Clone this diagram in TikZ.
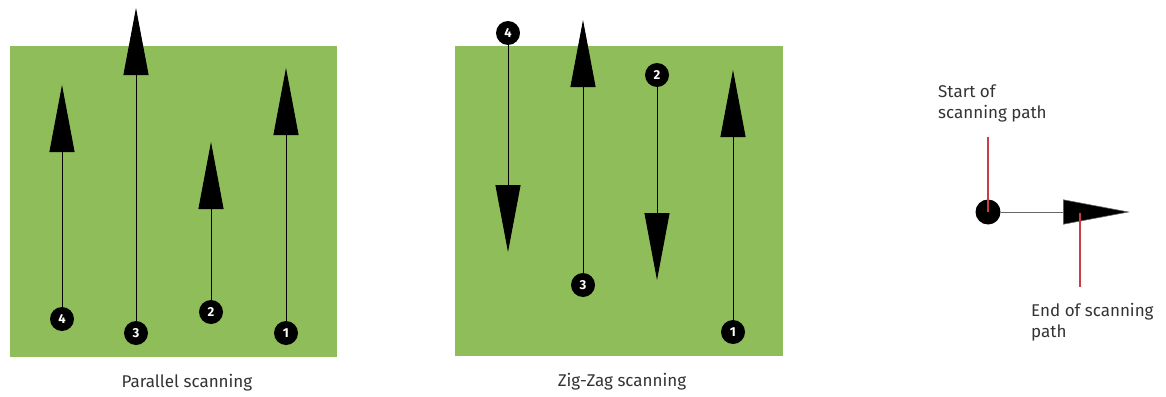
\documentclass[tikz,border=0pt]{standalone}
\usepackage{fontspec}
\setmainfont{Fira Sans}
\usetikzlibrary{arrows.meta}
\definecolor{field}{RGB}{143,189,89}
\definecolor{marker}{RGB}{205,60,70}
\tikzset{
  num/.style={circle,fill=black,text=white,inner sep=0pt,minimum size=24pt,
    font=\bfseries\fontsize{13}{13}\selectfont},
  scan/.style={draw=black,line width=0.9pt,-{Triangle[length=67pt,width=25pt]}},
  caption/.style={font=\fontsize{17}{21}\selectfont,text=black!80},
}
\begin{document}
\begin{tikzpicture}[x=1pt,y=-1pt]
    \useasboundingbox (0,0) rectangle (1166,396);
    \fill[field] (10,46) rectangle (337,357);
    \fill[field] (455,46) rectangle (783,356);
    % parallel
    \node[num] (p4) at (62,319) {4};
    \node[num] (p3) at (136,333) {3};
    \node[num] (p2) at (211,312) {2};
    \node[num] (p1) at (286,333) {1};
    \coordinate (t4) at (62,85);
    \coordinate (t3) at (136,8);
    \coordinate (t2) at (211,142);
    \coordinate (t1) at (286,68);
    \draw[scan] (p4) -- (t4);
    \draw[scan] (p3) -- (t3);
    \draw[scan] (p2) -- (t2);
    \draw[scan] (p1) -- (t1);
    \node[caption] (par) at (187,383) {Parallel scanning};
    % zig-zag
    \node[num] (z4) at (508,33) {4};
    \node[num] (z3) at (583,285) {3};
    \node[num] (z2) at (657,75) {2};
    \node[num] (z1) at (733,332) {1};
    \coordinate (u4) at (508,252);
    \coordinate (u3) at (583,20);
    \coordinate (u2) at (657,280);
    \coordinate (u1) at (733,70);
    \draw[scan] (z4) -- (u4);
    \draw[scan] (z3) -- (u3);
    \draw[scan] (z2) -- (u2);
    \draw[scan] (z1) -- (u1);
    \node[caption] (zig) at (622,382) {Zig-Zag scanning};
    % legend
    \node[circle,fill=black,minimum size=25pt,inner sep=0pt] (s) at (988,212) {};
    \coordinate (e) at (1130,212);
    \draw[draw=black!60,line width=0.6pt,-{Triangle[length=67pt,width=25pt,fill=black]}] (s) -- (e);
    \coordinate (sl) at (988,137);
    \coordinate (eh) at (1080,213);
    \coordinate (el) at (1080,287);
    \draw[marker,line width=1.6pt] (sl) -- (s.center);
    \draw[marker,line width=1.6pt] (eh) -- (el);
    \node[caption,anchor=north west,align=left,inner sep=0pt] (st) at (938,85) {Start of\\scanning path};
    \node[caption,anchor=north west,align=left,inner sep=0pt] (en) at (1031,303) {End of scanning\\path};
\end{tikzpicture}
\end{document}
